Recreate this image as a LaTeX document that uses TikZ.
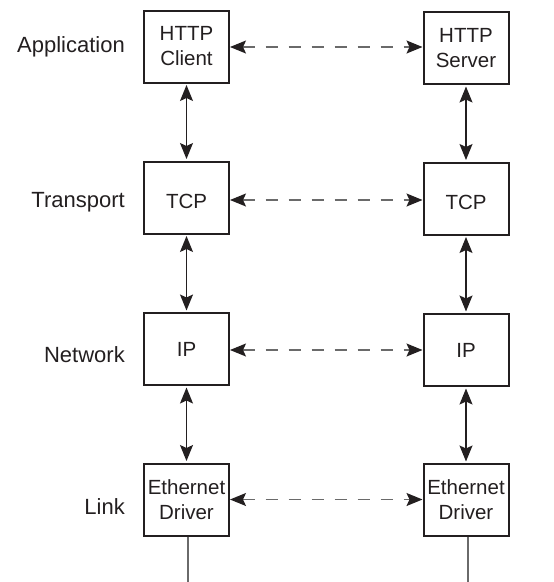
\documentclass[tikz,border=0pt]{standalone}
\usepackage{fontspec}
\setmainfont{Liberation Sans}
\usetikzlibrary{arrows.meta}
\definecolor{dashgray}{HTML}{6A6A6A}
\definecolor{inkblack}{HTML}{231F20}
\begin{document}
\begin{tikzpicture}[x=1pt,y=-1pt,
  layerbox/.style={draw=inkblack,line width=2pt,minimum width=85pt,minimum height=72pt,
    inner sep=0pt,align=center,font=\fontsize{20.5}{25}\selectfont,text=inkblack},
  layerlabel/.style={anchor=east,inner sep=0pt,font=\fontsize{22}{24}\selectfont,text=inkblack},
  vlink/.style={draw=inkblack,line width=1.3pt,
    {Stealth[length=16pt,width=13pt,inset=3pt]}-{Stealth[length=16pt,width=13pt,inset=3pt]},
    shorten >=1.5pt,shorten <=1.5pt},
  peer/.style={draw=dashgray,line width=1.3pt,dash pattern=on 12pt off 11pt,
    {Stealth[length=16pt,width=13pt,inset=3pt,color=inkblack]}-{Stealth[length=16pt,width=13pt,inset=3pt,color=inkblack]}},
  wire/.style={draw=dashgray,line width=1.3pt}
]
\useasboundingbox (0,0) rectangle (554,582);

% left column
\node[layerbox] (hc) at (186.5,46.5) {HTTP\\Client};
\node[layerbox] (tl) at (186.5,197.5) {\rule{0pt}{23pt}TCP};
\node[layerbox] (il) at (186.5,349) {IP};
\node[layerbox] (el) at (186.5,499.5) {Ethernet\\Driver};

% right column
\node[layerbox] (hs) at (466,48) {HTTP\\Server};
\node[layerbox] (tr) at (466,198.5) {\rule{0pt}{23pt}TCP};
\node[layerbox] (ir) at (466,350) {IP};
\node[layerbox] (er) at (466,500) {Ethernet\\Driver};

% layer labels
\node[layerlabel] (lapp) at (125,47) {Application};
\node[layerlabel] (ltra) at (125,202) {Transport};
\node[layerlabel] (lnet) at (125,355) {Network};
\node[layerlabel] (llnk) at (125,507) {Link};

% vertical links
\draw[vlink] (hc) -- (tl);
\draw[vlink] (tl) -- (il);
\draw[vlink] (il) -- (el);
\draw[vlink] (hs) -- (tr);
\draw[vlink] (tr) -- (ir);
\draw[vlink] (ir) -- (er);

% peer links
\coordinate (pa) at ([yshift=-0.5pt]hc.east);
\coordinate (pt) at ([yshift=-2.5pt]tl.east);
\coordinate (pn) at ([yshift=-1pt]il.east);
\coordinate (pl) at (el.east);
\draw[peer] (pa) -- (hs.west |- pa);
\draw[peer] (pt) -- (tr.west |- pt);
\draw[peer] (pn) -- (ir.west |- pn);
\draw[peer] (pl) -- (er.west |- pl);

% wires
\coordinate (wl) at (188,582);
\coordinate (wr) at (468,582);
\draw[wire] (el.south -| wl) -- (wl);
\draw[wire] (er.south -| wr) -- (wr);
\end{tikzpicture}
\end{document}
